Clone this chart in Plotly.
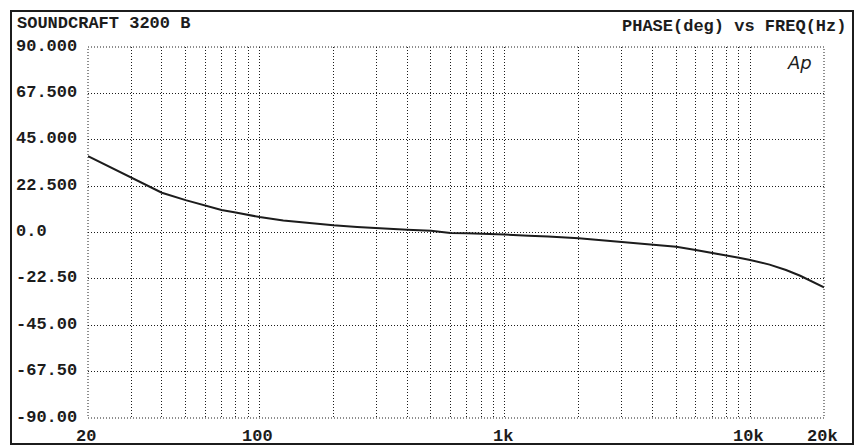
import numpy as np
import plotly.graph_objects as go

# ---- data ----
freq_hz = [20, 25, 30, 35, 40, 50, 60, 70, 80, 90, 100, 125, 150, 200, 250, 300,
           400, 500, 600, 700, 800, 1000, 1250, 1500, 2000, 2500, 3000, 4000,
           5000, 6000, 7000, 8000, 9000, 10000, 12000, 14000, 16000, 18000, 20000]
phase_deg = [37.0, 31.2, 26.6, 22.6, 19.3, 15.7, 12.9, 10.9, 9.7, 8.4, 7.5, 5.8, 4.8,
             3.5, 2.7, 2.1, 1.3, 0.8, -0.2, -0.4, -0.5, -1.0, -1.6, -1.9, -2.8, -3.8,
             -4.5, -5.8, -6.9, -8.5, -9.8, -11.2, -12.3, -13.3, -15.6, -18.2, -21.0,
             -24.0, -26.6]

grid_freqs = [20, 30, 40, 50, 60, 70, 80, 90,
              100, 200, 300, 400, 500, 600, 700, 800, 900,
              1000, 2000, 3000, 4000, 5000, 6000, 7000, 8000, 9000,
              10000, 20000]
x_tick_vals = [20, 100, 1000, 10000, 20000]
x_tick_text = ["20", "100", "1k", "10k", "20k"]
y_tick_vals = [90, 67.5, 45, 22.5, 0, -22.5, -45, -67.5, -90]
y_tick_text = ["90.000", "67.500", "45.000", "22.500", "0.0",
               "-22.50", "-45.00", "-67.50", "-90.00"]

title_left = "SOUNDCRAFT 3200 B"
title_right = "PHASE(deg) vs FREQ(Hz)"

# ---- layout geometry ----
W, H = 861, 448
L, R, T, B = 88, 37, 47, 30
pw, ph = W - L - R, H - T - B
INK = "#1c1c1c"
FONT = "Liberation Mono"


def px_to_paper_x(px):
    return (px - L) / pw


def px_to_paper_y(py):
    return (H - B - py) / ph


fig = go.Figure()
fig.add_trace(go.Scatter(x=freq_hz, y=phase_deg, mode="lines",
                         line=dict(color=INK, width=2), hoverinfo="skip",
                         showlegend=False))

annotations = []
for v, t in zip(y_tick_vals, y_tick_text):
    annotations.append(dict(x=px_to_paper_x(14), xref="paper", y=v, yref="y",
                            text=t, showarrow=False, xanchor="left",
                            yanchor="middle", yshift=1,
                            font=dict(family=FONT, size=17, color=INK, weight="bold")))
for v, t in zip(x_tick_vals, x_tick_text):
    annotations.append(dict(x=np.log10(v), xref="x", y=px_to_paper_y(437), yref="paper",
                            text=t, showarrow=False, xanchor="center",
                            yanchor="middle", xshift=-2,
                            font=dict(family=FONT, size=17, color=INK, weight="bold")))
annotations.append(dict(x=px_to_paper_x(15), xref="paper", y=px_to_paper_y(24), yref="paper",
                        text=title_left, showarrow=False, xanchor="left", yanchor="middle",
                        font=dict(family=FONT, size=17, color=INK, weight="bold")))
annotations.append(dict(x=px_to_paper_x(848), xref="paper", y=px_to_paper_y(26), yref="paper",
                        text=title_right, showarrow=False, xanchor="right", yanchor="middle",
                        font=dict(family=FONT, size=17, color=INK, weight="bold")))
annotations.append(dict(x=px_to_paper_x(799), xref="paper", y=px_to_paper_y(62), yref="paper",
                        text="Ap", showarrow=False, xanchor="center", yanchor="middle",
                        font=dict(family="DejaVu Sans", size=18, color=INK, style="italic")))

grid_common = dict(showgrid=True, gridcolor=INK, gridwidth=1, griddash="1px,2px",
                   zeroline=False, showline=False, ticks="", showticklabels=False)

fig.update_layout(
    width=W, height=H,
    margin=dict(l=L, r=R, t=T, b=B),
    paper_bgcolor="white", plot_bgcolor="white",
    xaxis=dict(type="log", range=[np.log10(20), np.log10(20000)],
               tickvals=grid_freqs, **grid_common),
    yaxis=dict(range=[-90, 90], tickvals=y_tick_vals, **grid_common),
    annotations=annotations,
    shapes=[
        dict(type="rect", xref="paper", yref="paper", x0=0, x1=1, y0=0, y1=1,
             line=dict(color=INK, width=1, dash="1px,2px"), layer="above"),
        dict(type="rect", xref="paper", yref="paper",
             x0=px_to_paper_x(11), x1=px_to_paper_x(853),
             y0=px_to_paper_y(444), y1=px_to_paper_y(11),
             line=dict(color=INK, width=2)),
    ],
)

fig.write_html("out.html",
               config={"displayModeBar": False},
               post_script="document.body.style.margin='0';"
                           "document.body.style.overflow='hidden';")
